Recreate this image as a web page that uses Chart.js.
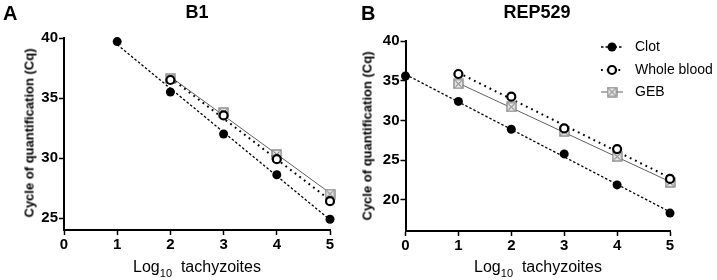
<!DOCTYPE html>
<html>
<head>
<meta charset="utf-8">
<script src="https://cdn.jsdelivr.net/npm/chart.js@4.4.1/dist/chart.umd.min.js"></script>
<style>
  html, body { margin: 0; padding: 0; background: #fff; }
  #wrap { position: relative; width: 717px; height: 280px; overflow: hidden; background: #fff;
          font-family: "Liberation Sans", Arial, sans-serif; color: #000; }
  .box { position: absolute; top: 0; height: 280px; }
  .txt { position: absolute; white-space: nowrap; line-height: 1; }
  .panel { font-weight: bold; font-size: 20px; }
  .title { font-weight: bold; font-size: 18px; transform: translateX(-50%); }
  .ytitle { font-weight: bold; font-size: 13px; transform: translate(-50%, -50%) rotate(-90deg); }
  .xtitle { font-size: 16px; transform: translateX(-50%); }
  .xtitle sub { font-size: 11px; vertical-align: -5px; line-height: 0; }
</style>
</head>
<body>
<div id="wrap">
  <div class="box" style="left:0;width:358px;"><canvas id="cA" width="358" height="280"></canvas></div>
  <div class="box" style="left:358px;width:359px;"><canvas id="cB" width="359" height="280"></canvas></div>

  <div class="txt panel" style="left:3px;top:3px;">A</div>
  <div class="txt panel" style="left:361px;top:3px;">B</div>
  <div class="txt title" style="left:197px;top:3px;">B1</div>
  <div class="txt title" style="left:537px;top:3px;">REP529</div>
  <div class="txt ytitle" style="left:29px;top:133px;">Cycle of quantification (Cq)</div>
  <div class="txt ytitle" style="left:367px;top:136px;">Cycle of quantification (Cq)</div>
  <div class="txt xtitle" style="left:197px;top:259px;">Log<sub>10</sub>&nbsp; tachyzoites</div>
  <div class="txt xtitle" style="left:538px;top:259px;">Log<sub>10</sub>&nbsp; tachyzoites</div>
</div>

<script>
// ---------------- DATA ----------------
const seriesNames = ["Clot", "Whole blood", "GEB"];
const xTicks = [0, 1, 2, 3, 4, 5];
const yTicksA = [25, 30, 35, 40];
const yTicksB = [20, 25, 30, 35, 40];

// Panel A (B1)
const xA_clot = [1, 2, 3, 4, 5];
const yA_clot = [39.7, 35.5, 32.0, 28.6, 24.9];
const xA_wb = [2, 3, 4, 5];
const yA_wb = [36.5, 33.55, 29.9, 26.4];
const xA_geb = [2, 3, 4, 5];
const yA_geb = [36.6, 33.8, 30.3, 27.0];
// fitted lines (end points)
const fitXA_clot = [1, 5];
const fitYA_clot = [39.45, 24.85];
const fitXA_wb = [2, 5];
const fitYA_wb = [36.68, 26.5];
const fitXA_geb = [2, 5];
const fitYA_geb = [36.77, 27.08];

// Panel B (REP529)
const xB_clot = [0, 1, 2, 3, 4, 5];
const yB_clot = [35.6, 32.4, 28.9, 25.8, 21.9, 18.35];
const xB_wb = [1, 2, 3, 4, 5];
const yB_wb = [35.85, 33.0, 29.0, 26.4, 22.65];
const xB_geb = [1, 2, 3, 4, 5];
const yB_geb = [34.6, 31.7, 28.6, 25.45, 22.2];
const fitXB_clot = [0, 5];
const fitYB_clot = [35.8, 18.5];
const fitXB_wb = [1, 5];
const fitYB_wb = [36.0, 22.8];
const fitXB_geb = [1, 5];
const fitYB_geb = [34.7, 22.3];

// ---------------- STYLES ----------------
function makeGebMarker() {
  const c = document.createElement('canvas');
  c.width = 11; c.height = 11;
  const g = c.getContext('2d');
  g.fillStyle = '#e6e6e6';
  g.fillRect(1, 1, 9, 9);
  g.strokeStyle = '#808080';
  g.lineWidth = 1.3;
  g.strokeRect(1, 1, 9, 9);
  g.strokeStyle = '#606060';
  g.lineWidth = 1;
  g.beginPath();
  g.moveTo(2.5, 2.5); g.lineTo(8.5, 8.5);
  g.moveTo(8.5, 2.5); g.lineTo(2.5, 8.5);
  g.stroke();
  return c;
}
const gebMarker = makeGebMarker();

const styles = {
  clot: { line: { borderColor: '#000', borderWidth: 1.3, borderDash: [2.5, 2] },
          pt: { pointStyle: 'circle', pointRadius: 4.5, pointBackgroundColor: '#000', pointBorderColor: '#000', pointBorderWidth: 0 } },
  wb:   { line: { borderColor: '#000', borderWidth: 2, borderDash: [1.8, 4] },
          pt: { pointStyle: 'circle', pointRadius: 4, pointBackgroundColor: '#fff', pointBorderColor: '#000', pointBorderWidth: 2.2 } },
  geb:  { line: { borderColor: '#606060', borderWidth: 1, borderDash: [] },
          pt: { pointStyle: gebMarker, pointRadius: 5.5, pointBackgroundColor: '#e2e2e2', pointBorderColor: '#707070', pointBorderWidth: 1 } }
};

function pts(xs, ys) { return xs.map((x, i) => ({ x: x, y: ys[i] })); }

function markerSet(label, xs, ys, st) {
  return Object.assign({ label: label, data: pts(xs, ys), showLine: false, clip: false, borderWidth: 0 }, st.pt);
}
function lineSet(label, xs, ys, st) {
  return Object.assign({ label: label + ' fit', data: pts(xs, ys), showLine: true, pointRadius: 0, clip: false,
                         fill: false, tension: 0 }, st.line);
}

// legend drawn on canvas (panel B)
const legendPlugin = {
  id: 'sideLegend',
  afterDatasetsDraw(chart, args, opts) {
    if (!opts || !opts.show) return;
    const ctx = chart.ctx;
    const keys = ['clot', 'wb', 'geb'];
    const rows = [47, 70, 92];
    const x0 = 243, x1 = 265, xm = 254, xt = 277;
    ctx.save();
    keys.forEach((k, i) => {
      const st = styles[k];
      const y = rows[i];
      ctx.beginPath();
      ctx.setLineDash(st.line.borderDash);
      ctx.lineWidth = st.line.borderWidth;
      ctx.strokeStyle = st.line.borderColor;
      ctx.moveTo(x0, y); ctx.lineTo(x1, y);
      ctx.stroke();
      ctx.setLineDash([]);
      if (k === 'geb') {
        ctx.drawImage(gebMarker, xm - 5.5, y - 5.5);
      } else {
        ctx.beginPath();
        ctx.arc(xm, y, st.pt.pointRadius, 0, Math.PI * 2);
        ctx.fillStyle = st.pt.pointBackgroundColor;
        ctx.fill();
        if (st.pt.pointBorderWidth) {
          ctx.lineWidth = st.pt.pointBorderWidth;
          ctx.strokeStyle = st.pt.pointBorderColor;
          ctx.stroke();
        }
      }
      ctx.fillStyle = '#000';
      ctx.font = '14px "Liberation Sans", Arial, sans-serif';
      ctx.textBaseline = 'middle';
      ctx.textAlign = 'left';
      ctx.fillText(seriesNames[i], xt, y + 0.5);
    });
    ctx.restore();
  }
};

function makeChart(id, cfg) {
  return new Chart(document.getElementById(id), {
    type: 'scatter',
    data: { datasets: cfg.datasets },
    plugins: [legendPlugin],
    options: {
      responsive: false,
      animation: false,
      events: [],
      layout: { padding: { top: cfg.padTop, right: cfg.padRight, left: 0, bottom: 0 } },
      plugins: {
        legend: { display: false },
        tooltip: { enabled: false },
        title: { display: false },
        sideLegend: { show: cfg.legend }
      },
      scales: {
        x: {
          type: 'linear', min: 0, max: 5,
          afterBuildTicks: s => { s.ticks = xTicks.map(v => ({ value: v })); },
          afterFit: s => { s.height = cfg.xAxisH; },
          border: { display: true, color: '#000', width: 2 },
          grid: { display: true, drawOnChartArea: false, drawTicks: true, tickLength: 5, tickColor: '#000', tickWidth: 1.5 },
          ticks: { color: '#000', padding: 1, font: { family: '"Liberation Sans", Arial, sans-serif', size: 15, weight: 'bold' } }
        },
        y: {
          type: 'linear', min: cfg.yMin, max: 40,
          afterBuildTicks: s => { s.ticks = cfg.yTicks.map(v => ({ value: v })); },
          afterFit: s => { s.width = cfg.yAxisW; },
          border: { display: true, color: '#000', width: 2 },
          grid: { display: true, drawOnChartArea: false, drawTicks: true, tickLength: 5, tickColor: '#000', tickWidth: 1.5 },
          ticks: { color: '#000', padding: 1, font: { family: '"Liberation Sans", Arial, sans-serif', size: 15, weight: 'bold' } }
        }
      }
    }
  });
}

makeChart('cA', {
  padTop: 38, padRight: 28, yAxisW: 64, xAxisH: 50, yMin: 24, yTicks: yTicksA, legend: false,
  datasets: [
    markerSet(seriesNames[0], xA_clot, yA_clot, styles.clot),
    markerSet(seriesNames[1], xA_wb, yA_wb, styles.wb),
    markerSet(seriesNames[2], xA_geb, yA_geb, styles.geb),
    lineSet(seriesNames[0], fitXA_clot, fitYA_clot, styles.clot),
    lineSet(seriesNames[1], fitXA_wb, fitYA_wb, styles.wb),
    lineSet(seriesNames[2], fitXA_geb, fitYA_geb, styles.geb)
  ]
});

makeChart('cB', {
  padTop: 41, padRight: 47, yAxisW: 47.5, xAxisH: 49, yMin: 16.1, yTicks: yTicksB, legend: true,
  datasets: [
    markerSet(seriesNames[0], xB_clot, yB_clot, styles.clot),
    markerSet(seriesNames[1], xB_wb, yB_wb, styles.wb),
    markerSet(seriesNames[2], xB_geb, yB_geb, styles.geb),
    lineSet(seriesNames[0], fitXB_clot, fitYB_clot, styles.clot),
    lineSet(seriesNames[1], fitXB_wb, fitYB_wb, styles.wb),
    lineSet(seriesNames[2], fitXB_geb, fitYB_geb, styles.geb)
  ]
});
</script>
</body>
</html>
